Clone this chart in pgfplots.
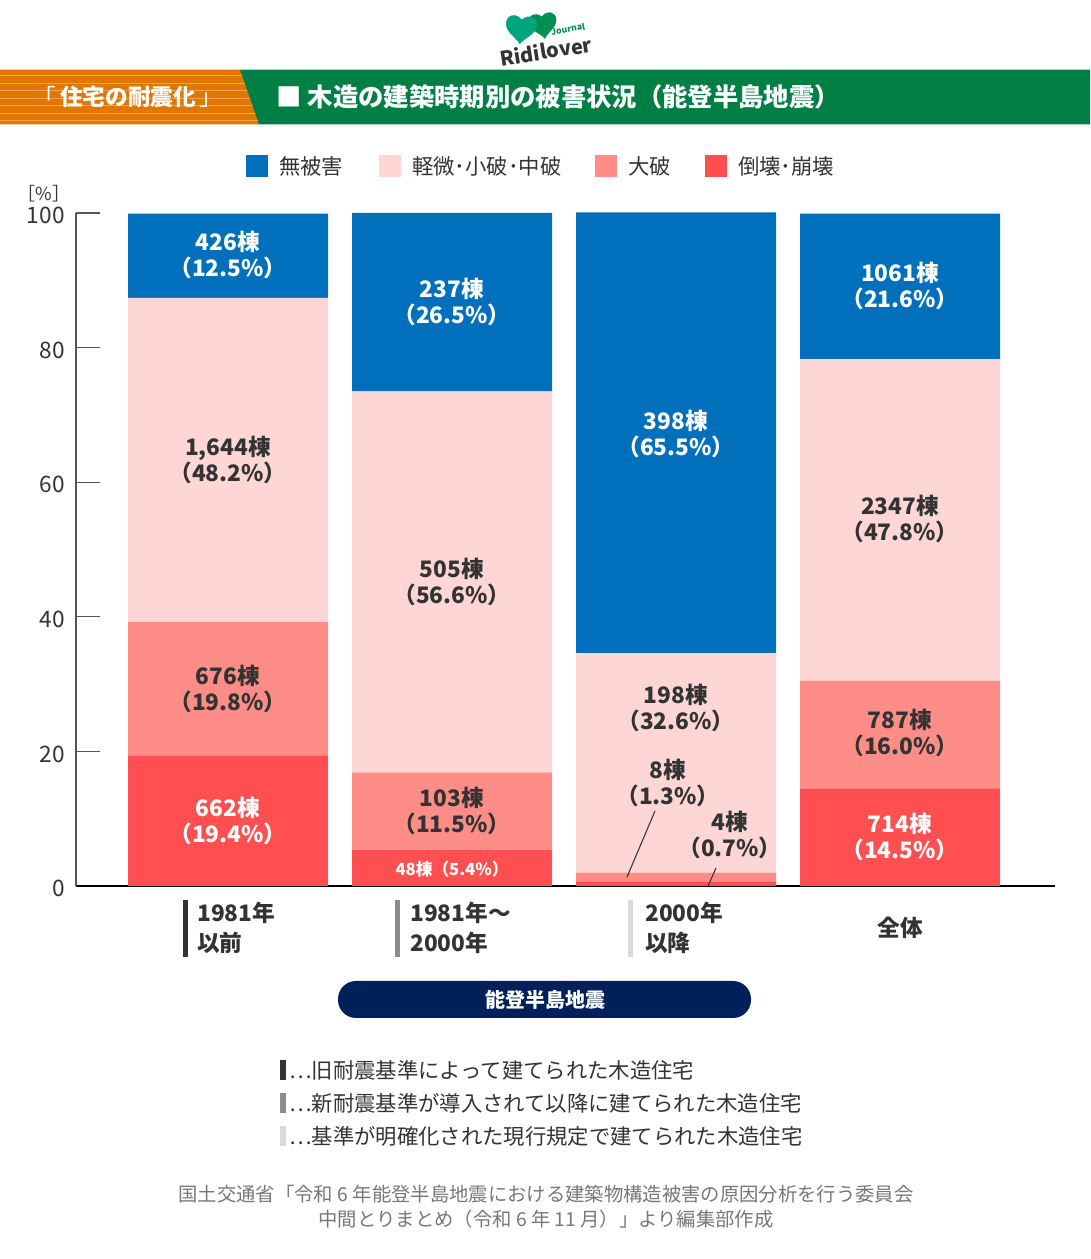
\documentclass[border=0pt]{standalone}
\usepackage{pgfplots}
\pgfplotsset{compat=1.18}
\usepackage{fontspec}
\setmainfont{Noto Sans CJK JP}
\definecolor{cblue}{HTML}{0070BC}
\definecolor{cpink}{HTML}{FFD6D6}
\definecolor{csalmon}{HTML}{FF8D87}
\definecolor{cred}{HTML}{FF4F51}
\definecolor{hgreen}{HTML}{007F45}
\definecolor{horange}{HTML}{E27700}
\definecolor{hstripe}{HTML}{EFA552}
\definecolor{cnavy}{HTML}{00205B}
\definecolor{tdark}{HTML}{333333}
\definecolor{tgray}{HTML}{777777}
\definecolor{axgray}{HTML}{555555}
\definecolor{lteal}{HTML}{00A57F}
\definecolor{lgreen}{HTML}{00914F}
\tikzset{lab/.style={align=center,font=\fontsize{17}{20}\selectfont\bfseries,inner sep=0pt}}
\begin{document}
\begin{tikzpicture}
\begin{scope}[x=0.75pt,y=0.75pt]
\path[use as bounding box] (0,0) rectangle (1090,1259);
% ---------- logo ----------
\def\heart{(0,-1) .. controls (-0.2,-0.6) and (-1,-0.3) .. (-1,0.3) .. controls (-1,0.85) and (-0.4,1.05) .. (0,0.6) .. controls (0.4,1.05) and (1,0.85) .. (1,0.3) .. controls (1,-0.3) and (0.2,-0.6) .. (0,-1) -- cycle}
\begin{scope}[shift={(543,{1259-25})},scale=14,rotate=8]
\fill[lgreen] \heart;
\end{scope}
\begin{scope}[shift={(521,{1259-29})},scale=15.5,rotate=-5]
\fill[lteal] \heart;
\end{scope}
\node[rotate=9,font=\fontsize{15}{15}\selectfont\bfseries,text=tdark,inner sep=0pt] at (546,{1259-51}) {Ridilover};
\node[rotate=9,font=\fontsize{6.5}{6.5}\selectfont\bfseries,text=lgreen,inner sep=0pt] at (568,{1259-29}) {Journal};
% ---------- header ----------
\draw[black!15,line width=0.75pt] (0,{1259-69.5}) -- (1090,{1259-69.5});
\fill[hgreen] (238,{1259-70}) -- (1090,{1259-70}) -- (1090,{1259-124.5}) -- (258,{1259-124.5}) -- cycle;
\begin{scope}
\clip (0,{1259-70}) -- (240,{1259-70}) -- (259,{1259-124.5}) -- (0,{1259-124.5}) -- cycle;
\fill[horange] (0,{1259-70}) rectangle (270,{1259-125});
\foreach \yy in {75.5,83,90.5,98,105.5,113,120.5} {\draw[hstripe,line width=0.6pt] (0,{1259-\yy}) -- (270,{1259-\yy});}
\end{scope}
\node[text=white,font=\fontsize{17}{17}\selectfont] at (128,{1259-97}) {「\,\textbf{住宅の耐震化}\,」};
\node[text=white,anchor=west,font=\fontsize{19}{19}\selectfont\bfseries] at (272,{1259-97}) {■ 木造の建築時期別の被害状況（能登半島地震）};
% ---------- legend ----------
\fill[cblue] (246,{1259-155}) rectangle (268,{1259-177});
\fill[cpink] (379,{1259-155}) rectangle (401,{1259-177});
\fill[csalmon] (595,{1259-155}) rectangle (617,{1259-177});
\fill[cred] (705,{1259-155}) rectangle (727,{1259-177});
\begin{scope}[every node/.style={anchor=west,text=tdark,font=\fontsize{16}{16}\selectfont,inner sep=0pt}]
\node at (279,{1259-166}) {無被害};
\node at (412,{1259-166}) {軽微･小破･中破};
\node at (628,{1259-166}) {大破};
\node at (738,{1259-166}) {倒壊･崩壊};
\end{scope}
\node[text=tdark,font=\fontsize{13.5}{13.5}\selectfont,inner sep=0pt] at (44,{1259-194}) {［\%］};
\end{scope}
% ---------- axis ----------
\begin{axis}[at={(57pt,279.75pt)},anchor=south west,scale only axis,
  width=734.25pt,height=504.75pt,
  xmin=-0.679,xmax=3.692,ymin=0,ymax=100,
  ybar stacked,bar width=150pt,
  axis lines=left,axis line style={-},
  x axis line style={black,line width=1pt},
  y axis line style={axgray,line width=1pt},
  xtick=\empty,ytick={0,20,40,60,80,100},
  tick align=inside,major tick length=18pt,
  ytick style={axgray,line width=1pt},
  yticklabel style={text=tdark,font=\fontsize{17}{17}\selectfont,xshift=-5pt,yshift=-2pt},
  /pgf/number format/assume math mode=true,
  clip=false]
\addplot[fill=cred,draw=none] coordinates {(0,19.4) (1,5.4) (2,0.7) (3,14.5)};
\addplot[fill=csalmon,draw=none] coordinates {(0,19.8) (1,11.5) (2,1.3) (3,16.0)};
\addplot[fill=cpink,draw=none] coordinates {(0,48.2) (1,56.6) (2,32.6) (3,47.8)};
\addplot[fill=cblue,draw=none] coordinates {(0,12.5) (1,26.5) (2,65.5) (3,21.6)};
\end{axis}
\begin{scope}[x=0.75pt,y=0.75pt]
% ---------- bar labels ----------
\node[lab,text=white] at (228,{1259-255}) {426棟\\（12.5\%）};
\node[lab,text=tdark] at (228,{1259-460}) {1,644棟\\（48.2\%）};
\node[lab,text=tdark] at (228,{1259-689}) {676棟\\（19.8\%）};
\node[lab,text=white] at (228,{1259-821}) {662棟\\（19.4\%）};
\node[lab,text=white] at (452,{1259-302}) {237棟\\（26.5\%）};
\node[lab,text=tdark] at (452,{1259-582}) {505棟\\（56.6\%）};
\node[lab,text=tdark] at (452,{1259-811}) {103棟\\（11.5\%）};
\node[inner sep=0pt,text=white,font=\fontsize{12.5}{12.5}\selectfont\bfseries] at (452,{1259-869}) {48棟（5.4\%）};
\node[lab,text=white] at (676,{1259-434}) {398棟\\（65.5\%）};
\node[lab,text=tdark] at (676,{1259-708}) {198棟\\（32.6\%）};
\node[lab,text=tdark] at (668,{1259-783}) {8棟\\（1.3\%）};
\node[lab,text=tdark] at (730,{1259-835}) {4棟\\（0.7\%）};
\draw[tdark,line width=0.8pt] (655,{1259-811}) -- (627,{1259-877});
\draw[tdark,line width=0.8pt] (716,{1259-868}) -- (708,{1259-886});
\node[lab,text=white] at (900,{1259-286}) {1061棟\\（21.6\%）};
\node[lab,text=tdark] at (900,{1259-519}) {2347棟\\（47.8\%）};
\node[lab,text=tdark] at (900,{1259-733}) {787棟\\（16.0\%）};
\node[lab,text=white] at (900,{1259-837}) {714棟\\（14.5\%）};
% ---------- category labels ----------
\fill[tdark] (183,{1259-900}) rectangle (188,{1259-957});
\fill[black!45] (395,{1259-900}) rectangle (400,{1259-957});
\fill[black!15] (628,{1259-900}) rectangle (633,{1259-957});
\begin{scope}[every node/.style={anchor=west,text=tdark,font=\fontsize{17}{17}\selectfont\bfseries,inner sep=0pt}]
\node at (197,{1259-913}) {1981年};
\node at (197,{1259-943}) {以前};
\node at (410,{1259-913}) {1981年～};
\node at (410,{1259-943}) {2000年};
\node at (645,{1259-913}) {2000年};
\node at (645,{1259-943}) {以降};
\end{scope}
\node[text=tdark,font=\fontsize{17}{17}\selectfont\bfseries,inner sep=0pt] at (900,{1259-928}) {全体};
% ---------- navy box ----------
\fill[cnavy,rounded corners=13.5pt] (338,{1259-981}) rectangle (751,{1259-1018});
\node[text=white,font=\fontsize{15}{15}\selectfont\bfseries] at (545,{1259-999.5}) {能登半島地震};
% ---------- notes ----------
\fill[tdark] (280,{1259-1060}) rectangle (286,{1259-1080});
\fill[black!45] (280,{1259-1093}) rectangle (286,{1259-1113});
\fill[black!15] (280,{1259-1126}) rectangle (286,{1259-1146});
\begin{scope}[every node/.style={anchor=west,text=tdark,font=\fontsize{16}{16}\selectfont,inner sep=0pt}]
\node at (289,{1259-1070}) {⋯旧耐震基準によって建てられた木造住宅};
\node at (289,{1259-1103}) {⋯新耐震基準が導入されて以降に建てられた木造住宅};
\node at (289,{1259-1136}) {⋯基準が明確化された現行規定で建てられた木造住宅};
\end{scope}
% ---------- source ----------
\node[text=tgray,font=\fontsize{14.5}{14.5}\selectfont,inner sep=0pt] at (546,{1259-1194}) {国土交通省「令和 6 年能登半島地震における建築物構造被害の原因分析を行う委員会};
\node[text=tgray,font=\fontsize{14.5}{14.5}\selectfont,inner sep=0pt] at (546,{1259-1219}) {中間とりまとめ（令和 6 年 11 月）」より編集部作成};
\end{scope}
\end{tikzpicture}
\end{document}
